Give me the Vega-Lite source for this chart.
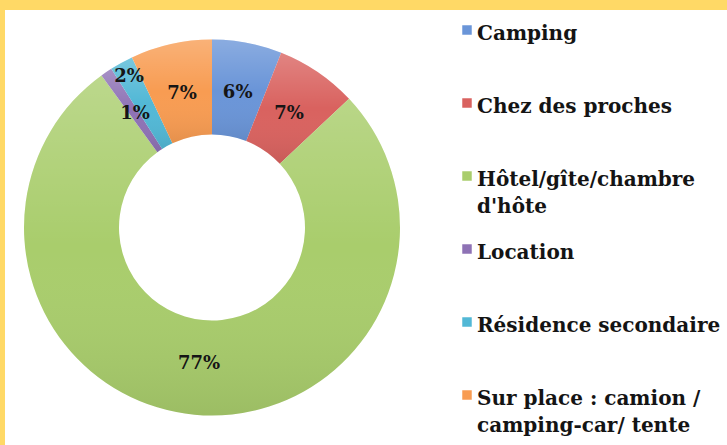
{
  "$schema": "https://vega.github.io/schema/vega-lite/v6.json",
  "background": "#FFD966",
  "padding": {"left": 5, "top": 10, "right": 0, "bottom": 0},
  "config": {
    "view": {"fill": "white", "stroke": null},
    "font": "DejaVu Serif"
  },
  "datasets": {
    "hebergement": [
      {"cat": "Camping", "v": 0.06},
      {"cat": "Chez des proches", "v": 0.07},
      {"cat": "Hôtel/gîte/chambre d'hôte", "v": 0.77},
      {"cat": "Location", "v": 0.01},
      {"cat": "Résidence secondaire", "v": 0.02},
      {"cat": "Sur place : camion / camping-car/ tente", "v": 0.07}
    ]
  },
  "spacing": 0,
  "bounds": "flush",
  "resolve": {"scale": {"color": "independent"}, "legend": {"color": "independent"}},
  "hconcat": [
    {
      "width": 414,
      "height": 435,
      "view": {"fill": "white", "stroke": null},
      "data": {"name": "hebergement"},
      "encoding": {
        "theta": {"field": "v", "type": "quantitative", "stack": true},
        "order": {"field": "cat", "type": "nominal"}
      },
      "layer": [
        {
          "mark": {"type": "arc", "radius": 188, "radius2": 93},
          "encoding": {
            "color": {
              "field": "cat", "type": "nominal", "legend": null,
              "scale": {"range": ["#6A95D8", "#D9625F", "#A9CD6C", "#8E72B5", "#52B8D6", "#F89C52"]}
            }
          }
        },
        {
          "mark": {
            "type": "arc", "radius": 188, "radius2": 93,
            "fill": {
              "gradient": "linear", "x1": 0, "y1": 0, "x2": 0, "y2": 1,
              "stops": [
                {"offset": 0, "color": "rgba(255,255,255,0.22)"},
                {"offset": 0.5, "color": "rgba(255,255,255,0)"},
                {"offset": 1, "color": "rgba(0,0,0,0.08)"}
              ]
            }
          },
          "encoding": {"detail": {"field": "cat", "type": "nominal"}}
        },
        {
          "mark": {
            "type": "text", "radius": 137, "font": "DejaVu Serif", "fontWeight": "bold", "fontSize": 18, "fill": "#151515",
            "radiusOffset": {"expr": "datum.cat == 'Résidence secondaire' ? 35 : 0"}
          },
          "encoding": {
            "detail": {"field": "cat", "type": "nominal"},
            "text": {"field": "v", "type": "quantitative", "format": ".0%"}
          }
        }
      ]
    },
    {
      "width": 308,
      "height": 435,
      "view": {"fill": "white", "stroke": null},
      "data": {"name": "hebergement"},
      "mark": {"type": "point", "filled": true, "size": 0, "strokeWidth": 0},
      "encoding": {
        "color": {
          "field": "cat", "type": "nominal",
          "scale": {"range": ["#6A95D8", "#D9625F", "#A9CD6C", "#8E72B5", "#52B8D6", "#F89C52"]},
          "legend": {
            "orient": "none", "legendX": 0, "legendY": 10, "title": null,
            "symbolType": "square", "symbolSize": 90, "symbolOffset": 38, "symbolStrokeWidth": 0, "symbolOpacity": 1,
            "labelOffset": 0, "labelFont": "DejaVu Serif", "labelFontWeight": "bold", "labelFontSize": 20,
            "labelColor": "#141414", "labelLimit": 400, "labelBaseline": "alphabetic",
            "gridAlign": "all", "rowPadding": 22,
            "labelExpr": "indexof(datum.label, 'chambre ') > 0 ? ['Hôtel/gîte/chambre', \"d'hôte\"] : indexof(datum.label, 'camion / ') > 0 ? ['Sur place : camion /', 'camping-car/ tente'] : datum.label",
            "encode": {"labels": {"update": {"dy": {"value": 10}, "lineHeight": {"value": 27}}}}
          }
        }
      }
    }
  ]
}
